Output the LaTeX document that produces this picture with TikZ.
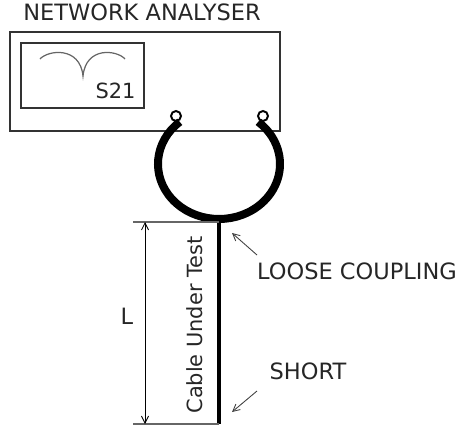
\documentclass[tikz,border=0pt]{standalone}
\usepackage{fontspec}
\setmainfont{DejaVu Sans}
\usetikzlibrary{arrows.meta}
\tikzset{
  label text/.style={font=\fontsize{12.8pt}{14pt}\selectfont,text=black!85,inner sep=0pt},
  small text/.style={font=\fontsize{11.9pt}{14pt}\selectfont,text=black!85,inner sep=0pt},
  pointer/.style={draw=black!75,line width=0.5pt,-{Straight Barb[length=4pt,width=4pt]}},
  extent line/.style={draw=black!60,line width=0.9pt},
}
\begin{document}
\begin{tikzpicture}[x=0.02cm,y=0.02cm]
  \useasboundingbox (0,0) rectangle (457,427);
  % analyser and screen
  \node[draw=black!80,line width=1.1pt,minimum width=270*0.02cm,minimum height=99*0.02cm,inner sep=0pt] (analyser) at (145,345.5) {};
  \node[draw=black!80,line width=0.7pt,minimum width=123*0.02cm,minimum height=65*0.02cm,inner sep=0pt] (screen) at (82.5,351.5) {};
  \draw[black!60,line width=0.7pt] (40,368) .. controls (48,377) and (80,381) .. (83,351) .. controls (86,381) and (117,377) .. (125,368);
  \node[label text] (title) at (142,415) {NETWORK ANALYSER};
  \node[small text] (s21) at (115.5,336) {S21};
  % ports
  \node[circle,draw=black,line width=1.1pt,minimum size=10*0.02cm,inner sep=0pt] (portl) at (176,311) {};
  \node[circle,draw=black,line width=1.1pt,minimum size=10*0.02cm,inner sep=0pt] (portr) at (263,311) {};
  % loop and cable
  \draw[line width=8*0.02cm] (219,263) ++(130:61 and 55) arc (130:410:61 and 55);
  \coordinate (top) at (219,207);
  \coordinate (bottom) at (219,3);
  \draw[line width=4.5*0.02cm] (top) -- (bottom);
  % length
  \coordinate (topl) at (133,205);
  \coordinate (botl) at (133,3);
  \draw[extent line] (topl) -- (top |- topl);
  \draw[extent line] (botl) -- (bottom);
  \coordinate (dimt) at (145,205);
  \coordinate (dimb) at (145,3);
  \draw[line width=0.5pt,{Straight Barb[length=4pt,width=4pt]}-{Straight Barb[length=4pt,width=4pt]}] (dimt) -- (dimb);
  \node[label text] (len) at (127,111) {L};
  \node[small text,rotate=90] (cable) at (195,102) {Cable Under Test};
  % callouts
  \node[label text] (loose) at (357,156) {LOOSE COUPLING};
  \node[label text] (short) at (308,56) {SHORT};
  \coordinate (loosefrom) at (257,172);
  \coordinate (looseto) at (232,194);
  \coordinate (shortfrom) at (257,36);
  \coordinate (shortto) at (232,15);
  \draw[pointer] (loosefrom) -- (looseto);
  \draw[pointer] (shortfrom) -- (shortto);
\end{tikzpicture}
\end{document}
